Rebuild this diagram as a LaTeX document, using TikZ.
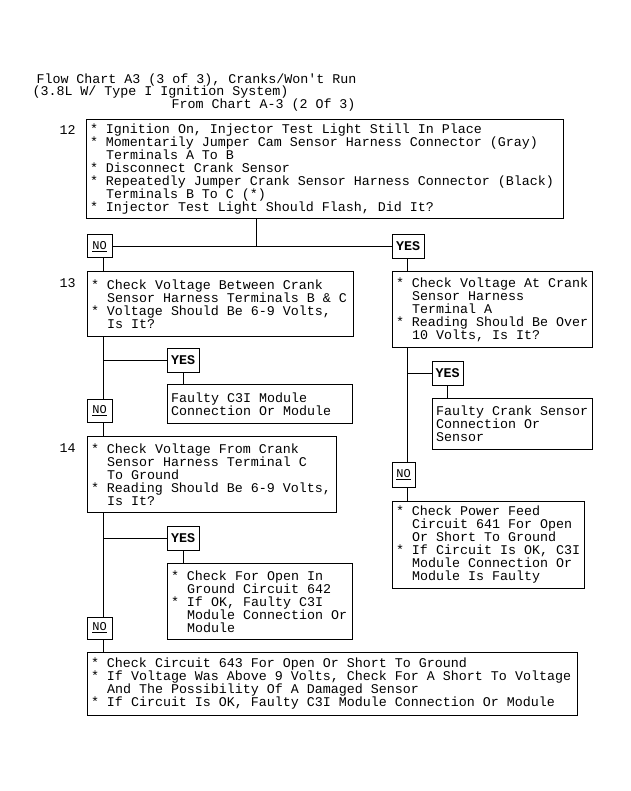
\documentclass[tikz,border=0pt]{standalone}
\usepackage{fontspec}
\setmainfont{Liberation Mono}
\frenchspacing
\newcommand{\itm}{\makebox[16pt][l]{*}}
\newcommand{\ind}{\hspace*{16pt}}
\begin{document}
\begin{tikzpicture}[x=1pt,y=-1pt,
  every path/.style={line width=1pt},
  txt/.style={inner sep=0pt,anchor=west,font=\fontsize{13.333pt}{13pt}\selectfont},
  box/.style={draw,line width=1pt,anchor=north west,align=flush left,inner xsep=3.5pt,inner ysep=0pt,
    font=\fontsize{13.333pt}{13pt}\selectfont},
  nolab/.style={draw,line width=1pt,inner sep=0pt,font=\fontsize{12pt}{12pt}\selectfont},
  yeslab/.style={draw,line width=1pt,inner sep=0pt,font=\fontsize{13.333pt}{13pt}\selectfont\bfseries}
]
\fill[white] (0,0) rectangle (630,791);
\useasboundingbox (0,0) rectangle (630,791);

% header
\node[txt] (h1) at (36,80) {Flow Chart A3 (3 of 3), Cranks/Won\textquotesingle t Run};
\node[txt] (h2) at (32,92.5) {(3.8L W/ Type I Ignition System)};
\node[txt] (h3) at (171,105) {From Chart A-3 (2 Of 3)};

% step numbers
\node[txt] (n12) at (59,130) {12};
\node[txt] (n13) at (59,283) {13};
\node[txt] (n14) at (59,448) {14};

% boxes
\node[box,text width=470pt,minimum height=99pt] (b12) at (86,119) {%
\itm Ignition On, Injector Test Light Still In Place\\
\itm Momentarily Jumper Cam Sensor Harness Connector (Gray)\\
\ind Terminals A To B\\
\itm Disconnect Crank Sensor\\
\itm Repeatedly Jumper Crank Sensor Harness Connector (Black)\\
\ind Terminals B To C (*)\\
\itm Injector Test Light Should Flash, Did It?};

\node[box,text width=259pt,minimum height=65pt] (b13) at (87,271) {%
\itm Check Voltage Between Crank\\
\ind Sensor Harness Terminals B \& C\\
\itm Voltage Should Be 6-9 Volts,\\
\ind Is It?};

\node[box,text width=193pt,minimum height=76pt] (r1) at (392,271) {%
\itm Check Voltage At Crank\\
\ind Sensor Harness\\
\ind Terminal A\\
\itm Reading Should Be Over\\
\ind 10 Volts, Is It?};

\node[box,text width=178pt,minimum height=39pt] (f1) at (167,384) {%
Faulty C3I Module\\
Connection Or Module};

\node[box,text width=153pt,minimum height=51pt] (f2) at (432,398) {%
Faulty Crank Sensor\\
Connection Or\\
Sensor};

\node[box,text width=242pt,minimum height=76pt] (b14) at (87,436) {%
\itm Check Voltage From Crank\\
\ind Sensor Harness Terminal C\\
\ind To Ground\\
\itm Reading Should Be 6-9 Volts,\\
\ind Is It?};

\node[box,text width=178pt,minimum height=76pt] (c1) at (167,563) {%
\itm Check For Open In\\
\ind Ground Circuit 642\\
\itm If OK, Faulty C3I\\
\ind Module Connection Or\\
\ind Module};

\node[box,text width=185pt,minimum height=87pt] (p1) at (392,501) {%
\itm Check Power Feed\\
\ind Circuit 641 For Open\\
\ind Or Short To Ground\\
\itm If Circuit Is OK, C3I\\
\ind Module Connection Or\\
\ind Module Is Faulty};

\node[box,text width=483pt,minimum height=63pt] (bb) at (87,652) {%
\itm Check Circuit 643 For Open Or Short To Ground\\
\itm If Voltage Was Above 9 Volts, Check For A Short To Voltage\\
\ind And The Possibility Of A Damaged Sensor\\
\itm If Circuit Is OK, Faulty C3I Module Connection Or Module};

% yes / no labels
\node[nolab,minimum width=25pt,minimum height=23pt] (no1) at (99.5,246.5) {\underline{NO}};
\node[yeslab,minimum width=32pt,minimum height=24pt] (yes1) at (408,246.5) {YES};
\node[yeslab,minimum width=32pt,minimum height=24pt] (yes2) at (183,360.5) {YES};
\node[nolab,minimum width=25pt,minimum height=23pt] (no2) at (99.5,411) {\underline{NO}};
\node[yeslab,minimum width=31pt,minimum height=24pt] (yes4) at (447.5,373) {YES};
\node[nolab,minimum width=23pt,minimum height=25pt] (no4) at (403.5,475) {\underline{NO}};
\node[yeslab,minimum width=32pt,minimum height=24pt] (yes3) at (183,538) {YES};
\node[nolab,minimum width=25pt,minimum height=22pt] (no3) at (99.5,628) {\underline{NO}};

% trunk columns
\coordinate (M) at (256,0);
\coordinate (L) at (103,0);
\coordinate (R) at (407,0);

% connectors
\draw (b12.south -| M) -- (no1.east -| M);
\draw (no1.east) -- (yes1.west);
\draw (no1.south -| L) -- (b13.north -| L);
\draw (yes1.south -| R) -- (r1.north -| R);

\draw (b13.south -| L) -- (no2.north -| L);
\draw (yes2.west -| L) -- (yes2.west);
\draw (yes2.south) -- (yes2.south |- f1.north);
\draw (no2.south -| L) -- (b14.north -| L);

\draw (b14.south -| L) -- (no3.north -| L);
\draw (yes3.west -| L) -- (yes3.west);
\draw (yes3.south) -- (yes3.south |- c1.north);
\draw (no3.south -| L) -- (bb.north -| L);

\draw (r1.south -| R) -- (no4.north -| R);
\draw (yes4.west -| R) -- (yes4.west);
\draw (yes4.south) -- (yes4.south |- f2.north);
\draw (no4.south -| R) -- (p1.north -| R);
\end{tikzpicture}
\end{document}
